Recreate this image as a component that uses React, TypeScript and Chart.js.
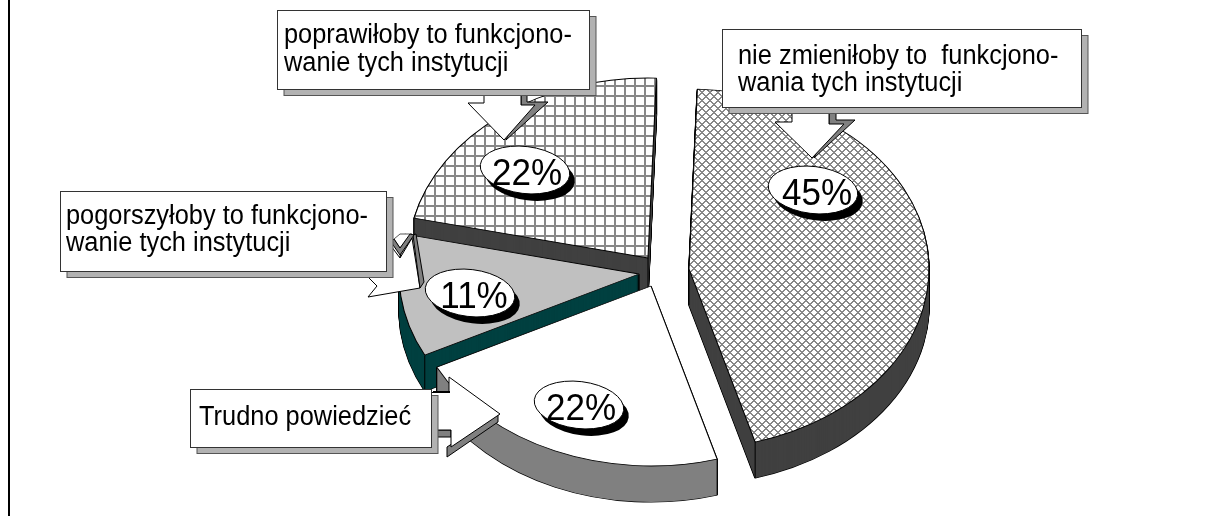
import React, { useEffect, useRef } from "react";
import { Chart, registerables } from "chart.js";

Chart.register(...registerables);

const categories = [
  "nie zmieniłoby to funkcjonowania tych instytucji",
  "Trudno powiedzieć",
  "pogorszyłoby to funkcjonowanie tych instytucji",
  "poprawiłoby to funkcjonowanie tych instytucji",
];
const shares = [45, 22, 11, 22];
const shareLabels = ["45%", "22%", "11%", "22%"];
const calloutNie = ["nie zmieniłoby to  funkcjono-", "wania tych instytucji"];
const calloutTrudno = ["Trudno powiedzieć"];
const calloutPogorsz = ["pogorszyłoby to funkcjono-", "wanie tych instytucji"];
const calloutPopraw = ["poprawiłoby to funkcjono-", "wanie tych instytucji"];

const W = 1208;
const H = 516;
const TILT = 0.75;
const RADIUS = 240;
const DEPTH = 36;
const ROTATION_DEG = 2;
// exploded pie centres, per slice (layout)
const SLICE_CENTRE: [number, number][] = [
  [689, 269],
  [651, 286],
  [639, 274],
  [648, 258],
];
const PAINT_ORDER = [3, 2, 1, 0];
const SIDE_COLORS = ["#404040", "#808080", "#004040", "#404040"];
const FONT = '"Liberation Sans", Arial, sans-serif';

function gridPattern(ctx: CanvasRenderingContext2D) {
  const c = document.createElement("canvas");
  c.width = 10;
  c.height = 10;
  const g = c.getContext("2d")!;
  g.fillStyle = "#fff";
  g.fillRect(0, 0, 10, 10);
  g.fillStyle = "#888888";
  g.fillRect(0, 0, 2, 10);
  g.fillRect(0, 0, 10, 2);
  const p = ctx.createPattern(c, "repeat")!;
  p.setTransform(new DOMMatrix().scale(1, 1 / TILT));
  return p;
}

function diagPattern(ctx: CanvasRenderingContext2D) {
  const n = 8;
  const c = document.createElement("canvas");
  c.width = n;
  c.height = n;
  const g = c.getContext("2d")!;
  g.fillStyle = "#fff";
  g.fillRect(0, 0, n, n);
  g.fillStyle = "#888888";
  for (let x = 0; x < n; x++) {
    for (let y = 0; y < n; y++) {
      if ((x + y) % n < 2 || (x - y + n) % n < 2) g.fillRect(x, y, 1, 1);
    }
  }
  const p = ctx.createPattern(c, "repeat")!;
  p.setTransform(new DOMMatrix().scale(1, 1 / TILT));
  return p;
}

function poly(ctx: CanvasRenderingContext2D, pts: number[][], fill: string, stroke = "#000", lw = 1) {
  ctx.beginPath();
  pts.forEach(([x, y], i) => (i ? ctx.lineTo(x, y) : ctx.moveTo(x, y)));
  ctx.closePath();
  ctx.fillStyle = fill;
  ctx.fill();
  ctx.strokeStyle = stroke;
  ctx.lineWidth = lw;
  ctx.stroke();
}

function tallText(ctx: CanvasRenderingContext2D, s: string, x: number, y: number, sy: number) {
  ctx.save();
  ctx.translate(x, y);
  ctx.scale(1, sy);
  ctx.fillText(s, 0, 0);
  ctx.restore();
}

function box(
  ctx: CanvasRenderingContext2D,
  x0: number,
  y0: number,
  x1: number,
  y1: number,
  lines: string[],
  tx: number,
  baselines: number[],
) {
  ctx.fillStyle = "#b2b2b2";
  ctx.strokeStyle = "#555";
  ctx.lineWidth = 1;
  ctx.fillRect(x0 + 6.5, y0 + 6, x1 - x0, y1 - y0);
  ctx.strokeRect(x0 + 6.5, y0 + 6, x1 - x0, y1 - y0);
  ctx.fillStyle = "#fff";
  ctx.strokeStyle = "#333";
  ctx.fillRect(x0, y0, x1 - x0, y1 - y0);
  ctx.strokeRect(x0, y0, x1 - x0, y1 - y0);
  ctx.fillStyle = "#000";
  ctx.font = `25.4px ${FONT}`;
  ctx.textAlign = "left";
  ctx.textBaseline = "alphabetic";
  lines.forEach((l, i) => tallText(ctx, l, tx, baselines[i], 1.06));
}

function bubble(ctx: CanvasRenderingContext2D, cx: number, cy: number, label: string, tx: number) {
  ctx.fillStyle = "#000";
  ctx.beginPath();
  ctx.ellipse(cx + 5, cy + 7, 45, 23.5, 0.12, 0, Math.PI * 2);
  ctx.fill();
  ctx.fillStyle = "#fff";
  ctx.strokeStyle = "#000";
  ctx.lineWidth = 1;
  ctx.beginPath();
  ctx.ellipse(cx, cy, 45, 23.5, 0.12, 0, Math.PI * 2);
  ctx.fill();
  ctx.stroke();
  ctx.fillStyle = "#000";
  ctx.font = `35px ${FONT}`;
  ctx.textAlign = "center";
  ctx.textBaseline = "alphabetic";
  tallText(ctx, label, tx, cy + 14.5, 1.08);
}

const pie3d = {
  id: "pie3d",
  beforeDatasetDraw(chart: any) {
    const ctx: CanvasRenderingContext2D = chart.ctx;
    const arcs = chart.getDatasetMeta(0).data;
    ctx.imageSmoothingEnabled = false;
    const draw = (i: number, dy: number, o: any) => {
      const el = arcs[i];
      const [cx, cy] = SLICE_CENTRE[i];
      ctx.save();
      ctx.translate(cx, cy + dy);
      ctx.scale(1, TILT);
      ctx.translate(-el.x, -el.y);
      const saved = el.options;
      el.options = { ...saved, ...o };
      el.draw(ctx);
      el.options = saved;
      ctx.restore();
    };
    for (const i of PAINT_ORDER) {
      for (let d = DEPTH; d >= 1; d--) {
        draw(i, d, { backgroundColor: "#000", borderColor: "#000", borderWidth: 1.6 });
      }
      for (let d = DEPTH; d >= 1; d--) {
        draw(i, d, { backgroundColor: SIDE_COLORS[i], borderWidth: 0 });
      }
      const el = arcs[i];
      const [cx, cy] = SLICE_CENTRE[i];
      ctx.strokeStyle = "#000";
      ctx.lineWidth = 1;
      ctx.beginPath();
      for (const a of [el.startAngle, el.endAngle]) {
        const vx = cx + Math.cos(a) * RADIUS;
        const vy = cy + Math.sin(a) * RADIUS * TILT;
        ctx.moveTo(vx, vy);
        ctx.lineTo(vx, vy + DEPTH);
      }
      ctx.moveTo(cx, cy);
      ctx.lineTo(cx, cy + DEPTH);
      ctx.stroke();
      draw(i, 0, {});
    }
    return false;
  },
  afterDraw(chart: any) {
    const ctx: CanvasRenderingContext2D = chart.ctx;
    ctx.save();
    // frame on the left
    ctx.fillStyle = "#000";
    ctx.fillRect(8, 0, 2, H);

    // arrow: poprawiłoby
    poly(ctx, [[521, 95], [527, 95], [527, 102], [548, 102], [506, 140], [521, 105]], "#808080");
    poly(ctx, [[484, 85], [484, 103], [468, 103], [504, 140], [535, 105], [521, 105], [521, 85]], "#fff");
    box(ctx, 277.5, 10.5, 589.5, 89.5, calloutPopraw, 284, [42.5, 70.5]);

    // arrow: nie zmieniłoby
    poly(ctx, [[829, 112], [836, 112], [836, 120], [855, 120], [814, 158], [829, 124]], "#808080");
    poly(ctx, [[792, 105], [792, 122], [775, 122], [812, 158], [844, 124], [829, 124], [829, 105]], "#fff");
    box(ctx, 722.5, 29.5, 1081.5, 107.5, calloutNie, 738, [63.5, 90.5]);

    // arrow: pogorszyłoby
    poly(ctx, [[380, 262], [368, 277], [377, 286], [368, 297], [420, 288], [412, 238], [400, 258], [391, 246]], "#fff");
    poly(ctx, [[413, 235], [416, 234], [424, 282], [420, 288]], "#808080");
    poly(ctx, [[394, 239], [400, 234], [412, 234], [400, 248]], "#fff", "#555");
    poly(ctx, [[391, 242], [394, 239], [400, 248], [410, 234], [414, 235], [400, 255]], "#808080");
    box(ctx, 60.5, 191.5, 386.5, 271.5, calloutPogorsz, 66, [223.5, 250.5]);

    // arrow: Trudno
    poly(ctx, [[436, 430], [451, 430], [451, 437], [436, 437]], "#808080");
    poly(ctx, [[498, 414], [498, 422], [447, 457], [447, 447]], "#808080");
    poly(ctx, [[425, 392.5], [449, 392.5], [449, 377], [500, 414], [451, 447], [451, 430], [425, 430]], "#fff");
    ctx.fillStyle = "#000";
    ctx.fillRect(433, 391, 17, 2);
    box(ctx, 190.5, 389.5, 431.5, 447.5, calloutTrudno, 199, [424.5]);

    // percentage bubbles
    bubble(ctx, 813, 190, shareLabels[0], 817);
    bubble(ctx, 579, 405, shareLabels[1], 581);
    bubble(ctx, 470, 293, shareLabels[2], 474);
    bubble(ctx, 525, 170, shareLabels[3], 527);
    ctx.restore();
  },
};

export default function App() {
  const ref = useRef<HTMLCanvasElement>(null);
  useEffect(() => {
    const canvas = ref.current!;
    const ctx = canvas.getContext("2d")!;
    const chart = new Chart(canvas, {
      type: "pie",
      data: {
        labels: categories,
        datasets: [
          {
            data: shares,
            backgroundColor: [diagPattern(ctx), "#ffffff", "#c0c0c0", gridPattern(ctx)],
            borderColor: "#000",
            borderWidth: 1.1,
            radius: RADIUS,
          } as any,
        ],
      },
      options: {
        animation: false,
        responsive: false,
        rotation: ROTATION_DEG,
        events: [],
        layout: { padding: 0 },
        plugins: { legend: { display: false }, tooltip: { enabled: false } },
      },
      plugins: [pie3d as any],
    });
    return () => chart.destroy();
  }, []);
  return (
    <div style={{ position: "absolute", left: 0, top: 0, width: W, height: H, background: "#fff" }}>
      <canvas ref={ref} width={W} height={H} style={{ display: "block", width: W, height: H }} />
    </div>
  );
}
